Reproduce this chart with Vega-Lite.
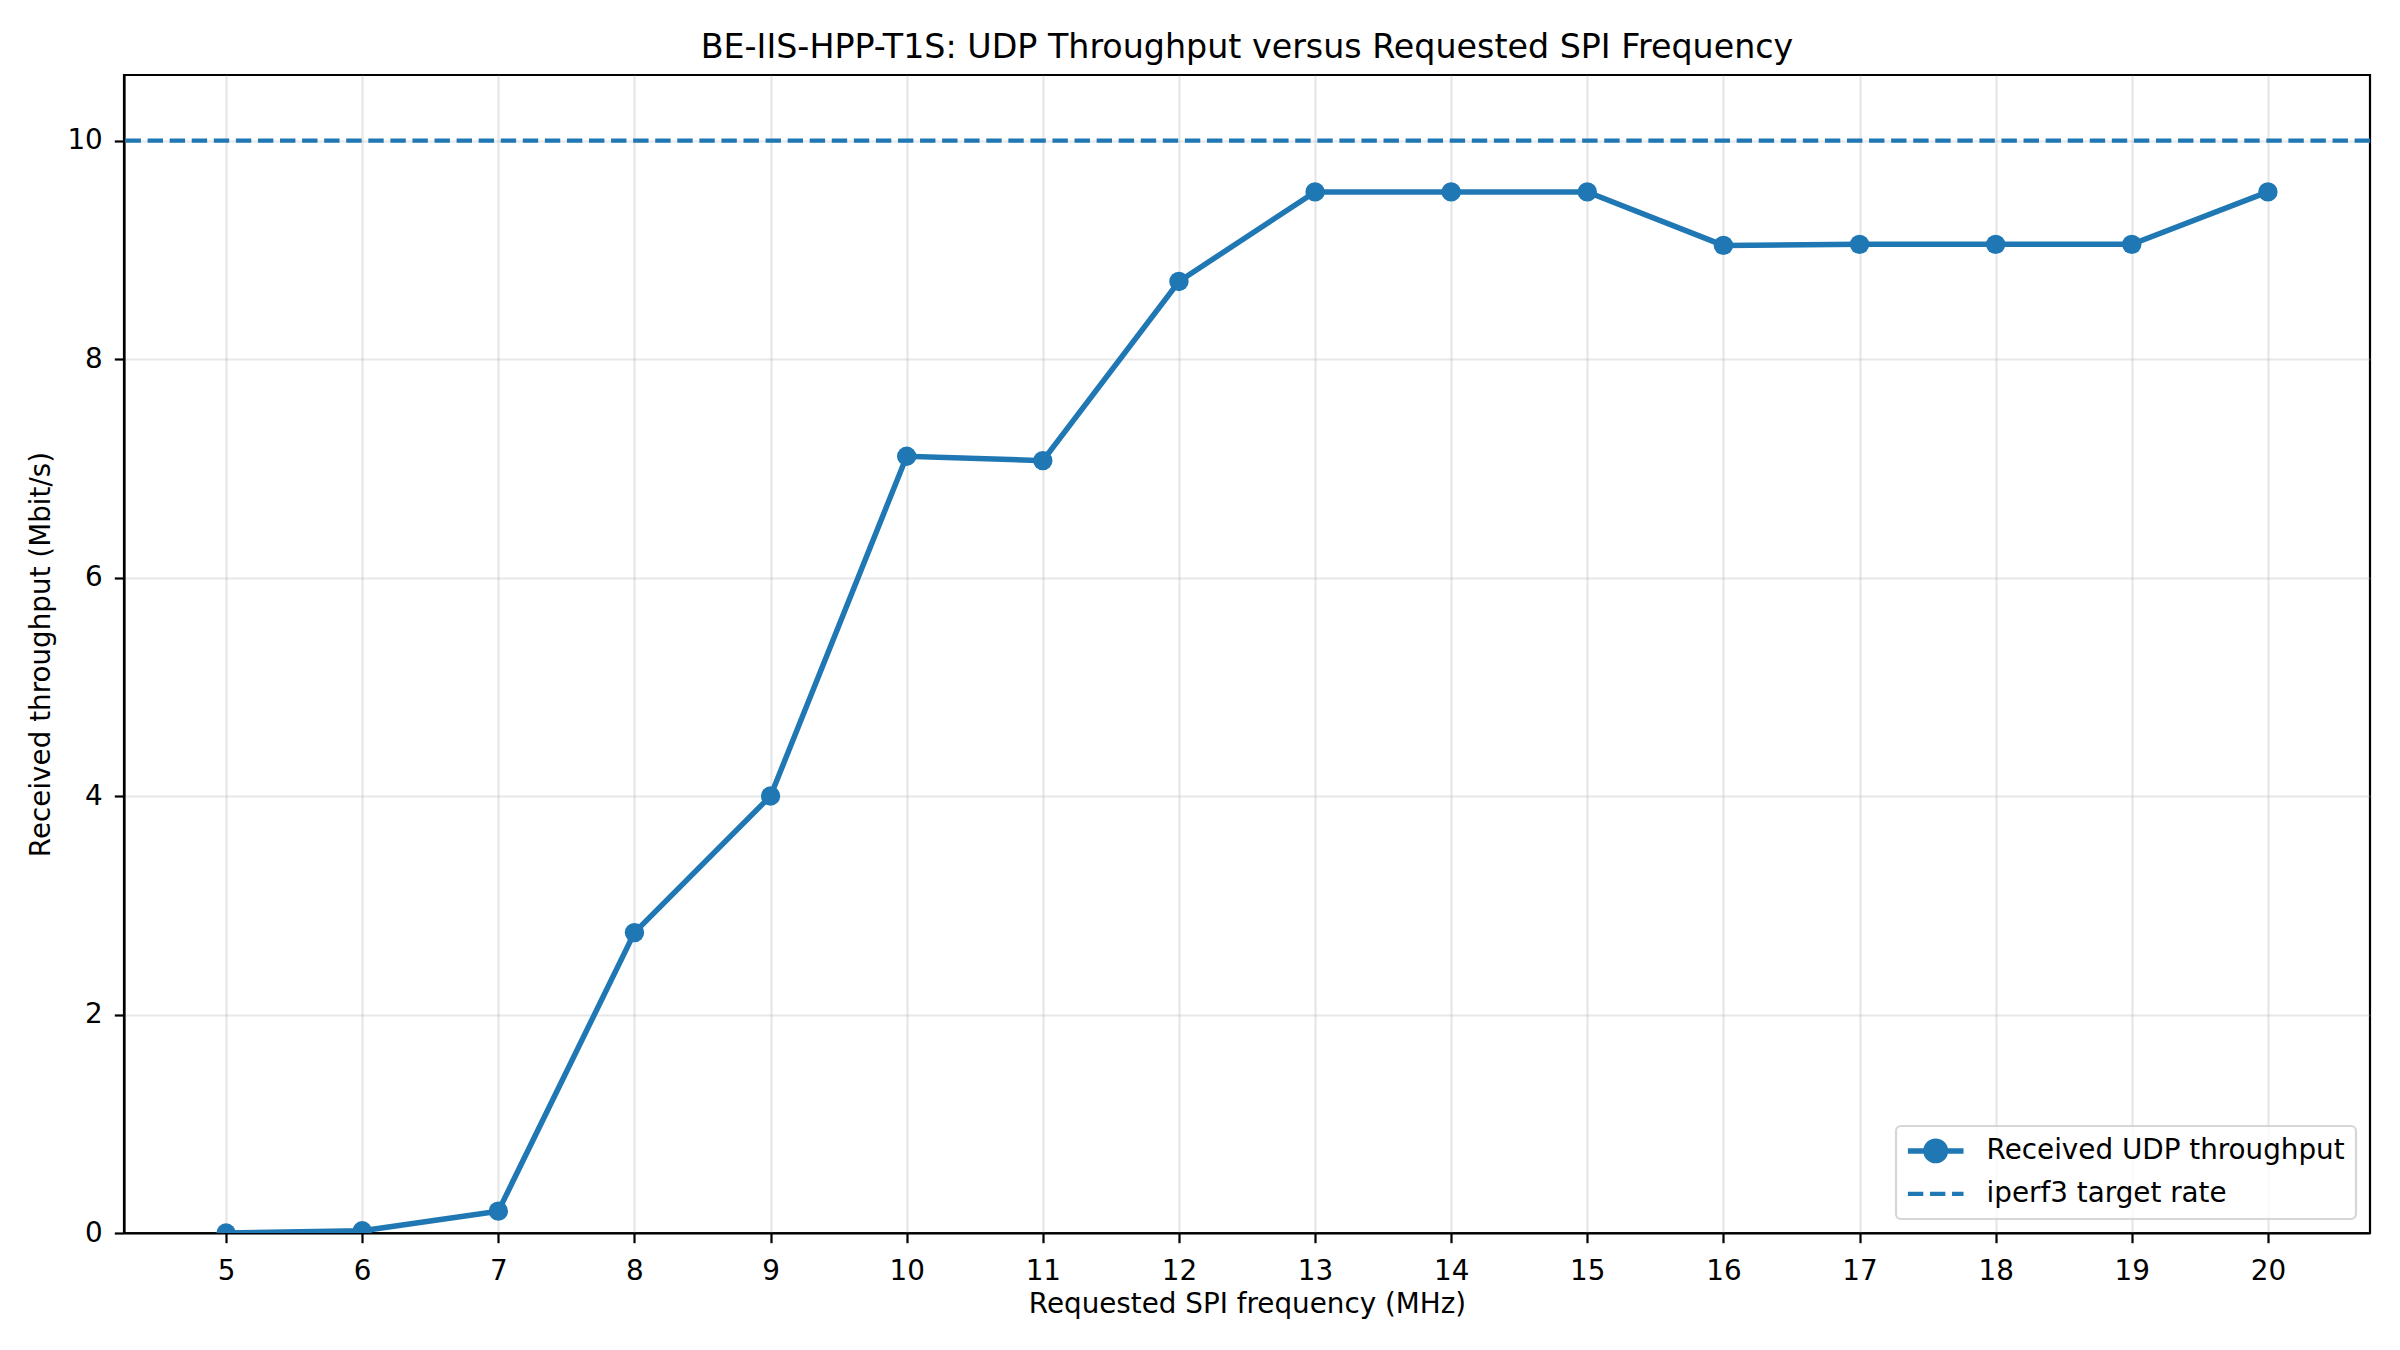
{
  "$schema": "https://vega.github.io/schema/vega-lite/v6.json",
  "width": 2246,
  "height": 1158,
  "autosize": {"type": "none"},
  "padding": {"left": 124, "top": 75, "right": 30, "bottom": 117},
  "background": "white",
  "title": {
    "text": "BE-IIS-HPP-T1S: UDP Throughput versus Requested SPI Frequency",
    "font": "DejaVu Sans",
    "fontSize": 33.3,
    "fontWeight": "normal",
    "color": "black",
    "anchor": "middle",
    "baseline": "alphabetic",
    "offset": -16.3
  },
  "config": {
    "font": "DejaVu Sans",
    "view": {"stroke": "black", "strokeWidth": 2.2},
    "axis": {
      "labelFont": "DejaVu Sans",
      "labelFontSize": 27.8,
      "labelColor": "black",
      "titleFont": "DejaVu Sans",
      "titleFontSize": 27.8,
      "titleFontWeight": "normal",
      "titleColor": "black",
      "domainColor": "black",
      "domainWidth": 2.2,
      "tickColor": "black",
      "tickWidth": 2.2,
      "tickSize": 9.7,
      "grid": true,
      "gridColor": "#b0b0b0",
      "gridOpacity": 0.3,
      "gridWidth": 2.2,
      "labelFlush": false,
      "labelOverlap": false,
      "format": "d"
    }
  },
  "datasets": {
    "measured": [
      {"freq": 5, "mbps": 0.0, "series": "Received UDP throughput"},
      {"freq": 6, "mbps": 0.02, "series": "Received UDP throughput"},
      {"freq": 7, "mbps": 0.2, "series": "Received UDP throughput"},
      {"freq": 8, "mbps": 2.75, "series": "Received UDP throughput"},
      {"freq": 9, "mbps": 4.0, "series": "Received UDP throughput"},
      {"freq": 10, "mbps": 7.11, "series": "Received UDP throughput"},
      {"freq": 11, "mbps": 7.07, "series": "Received UDP throughput"},
      {"freq": 12, "mbps": 8.71, "series": "Received UDP throughput"},
      {"freq": 13, "mbps": 9.53, "series": "Received UDP throughput"},
      {"freq": 14, "mbps": 9.53, "series": "Received UDP throughput"},
      {"freq": 15, "mbps": 9.53, "series": "Received UDP throughput"},
      {"freq": 16, "mbps": 9.04, "series": "Received UDP throughput"},
      {"freq": 17, "mbps": 9.05, "series": "Received UDP throughput"},
      {"freq": 18, "mbps": 9.05, "series": "Received UDP throughput"},
      {"freq": 19, "mbps": 9.05, "series": "Received UDP throughput"},
      {"freq": 20, "mbps": 9.53, "series": "Received UDP throughput"}
    ],
    "target": [
      {"rate": 10, "series": "iperf3 target rate"}
    ]
  },
  "layer": [
    {
      "data": {"name": "measured"},
      "mark": {"type": "line", "strokeWidth": 5.5, "clip": true},
      "encoding": {
        "x": {
          "field": "freq",
          "type": "quantitative",
          "scale": {"domain": [4.25, 20.75], "nice": false, "zero": false},
          "axis": {
            "title": "Requested SPI frequency (MHz)",
            "values": [5, 6, 7, 8, 9, 10, 11, 12, 13, 14, 15, 16, 17, 18, 19, 20],
            "labelAngle": 0,
            "labelPadding": 15,
            "titleBaseline": "middle",
            "titleY": 71
          }
        },
        "y": {
          "field": "mbps",
          "type": "quantitative",
          "scale": {"domain": [0, 10.6], "nice": false, "zero": false},
          "axis": {
            "title": "Received throughput (Mbit/s)",
            "values": [0, 2, 4, 6, 8, 10],
            "labelPadding": 12,
            "titleBaseline": "middle",
            "titleX": -83,
            "titleY": 579
          }
        },
        "color": {
          "field": "series",
          "type": "nominal",
          "scale": {
            "domain": ["Received UDP throughput", "iperf3 target rate"],
            "range": ["#1f77b4", "#1f77b4"]
          },
          "legend": {
            "title": null,
            "orient": "bottom-right",
            "offset": 14,
            "padding": 11,
            "rowPadding": 7,
            "labelFont": "DejaVu Sans",
            "labelFontSize": 27.8,
            "labelColor": "black",
            "labelOffset": 51.8,
            "labelLimit": 800,
            "symbolSize": 400,
            "symbolStrokeWidth": 5.5,
            "fillColor": "rgba(255,255,255,0.8)",
            "strokeColor": "#d6d6d6",
            "cornerRadius": 5,
            "encode": {
              "legend": {"update": {"strokeWidth": {"value": 2.2}}},
              "symbols": {
                "update": {
                  "shape": {"signal": "datum.value === 'iperf3 target rate' ? 'M-1.3,0L4.26,0' : 'M-1.3,0L4.26,0M2.45,0A0.97,0.97,0,1,1,0.51,0A0.97,0.97,0,1,1,2.45,0Z'"},
                  "fill": {"value": "#1f77b4"},
                  "stroke": {"value": "#1f77b4"},
                  "opacity": {"value": 1},
                  "strokeWidth": {"signal": "datum.value === 'iperf3 target rate' ? 4.17 : 5.5"},
                  "strokeDash": {"signal": "datum.value === 'iperf3 target rate' ? [15.4, 6.67] : []"}
                }
              }
            }
          }
        }
      }
    },
    {
      "data": {"name": "measured"},
      "mark": {"type": "point", "filled": true, "size": 376, "opacity": 1, "strokeWidth": 0, "clip": true},
      "encoding": {
        "x": {"field": "freq", "type": "quantitative", "scale": {"domain": [4.25, 20.75], "nice": false, "zero": false}},
        "y": {"field": "mbps", "type": "quantitative", "scale": {"domain": [0, 10.6], "nice": false, "zero": false}},
        "color": {"field": "series", "type": "nominal"}
      }
    },
    {
      "data": {"name": "target"},
      "mark": {"type": "rule", "strokeWidth": 4.17, "strokeDash": [15.4, 6.67]},
      "encoding": {
        "y": {"field": "rate", "type": "quantitative", "scale": {"domain": [0, 10.6], "nice": false, "zero": false}},
        "color": {"field": "series", "type": "nominal"}
      }
    }
  ]
}
